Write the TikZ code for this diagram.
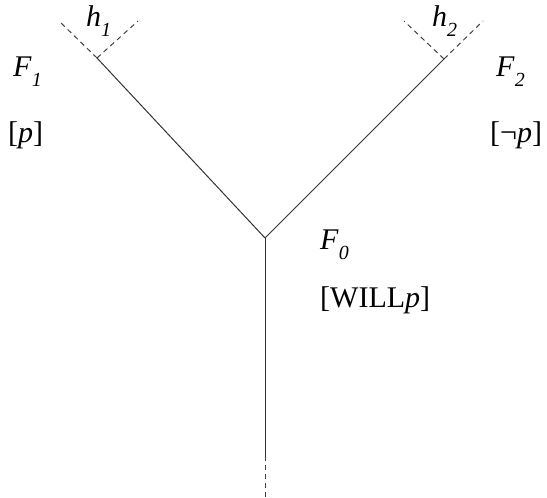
\documentclass[tikz,border=0pt]{standalone}
\usepackage{fontspec}
\setmainfont{Liberation Serif}
\newcommand{\lbl}[2]{\textit{#1}\raisebox{-0.33em}{\fontsize{20}{20}\selectfont\itshape #2}}
\begin{document}
\begin{tikzpicture}[x=1pt,y=1pt,
  branch/.style={line width=1pt,draw=black!80},
  dotted branch/.style={line width=1pt,draw=black!75,dash pattern=on 5pt off 4pt},
  txt/.style={font=\fontsize{30}{34}\selectfont,inner sep=0pt,anchor=west}]
\useasboundingbox (0,0) rectangle (547,498);
\coordinate (J) at (265,260);
\coordinate (L) at (97,440);
\coordinate (R) at (444,439);
\coordinate (Ld1) at (59,477);
\coordinate (Ld2) at (138,477);
\coordinate (Rd1) at (404,477);
\coordinate (Rd2) at (483,477);
\coordinate (B) at (265,42);
\coordinate (Be) at (265,0);
\draw[branch] (J) -- (L);
\draw[branch] (J) -- (R);
\draw[branch] (J) -- (B);
\draw[dotted branch] (L) -- (Ld1);
\draw[dotted branch] (L) -- (Ld2);
\draw[dotted branch] (R) -- (Rd1);
\draw[dotted branch] (R) -- (Rd2);
\draw[dotted branch] (B) -- (Be);
\node[txt] (h1) at (86,477) {\lbl{h}{1}};
\node[txt] (h2) at (432,477) {\lbl{h}{2}};
\node[txt] (F1) at (13,426) {\lbl{F}{1}};
\node[txt] (F2) at (496,426) {\lbl{F}{2}};
\node[txt] (F0) at (320,253) {\lbl{F}{0}};
\node[txt] (p1) at (8,363) {[\textit{p}]};
\node[txt] (p2) at (490,363) {[¬\textit{p}]};
\node[txt] (W) at (320,198) {[WILL\textit{p}]};
\end{tikzpicture}
\end{document}
